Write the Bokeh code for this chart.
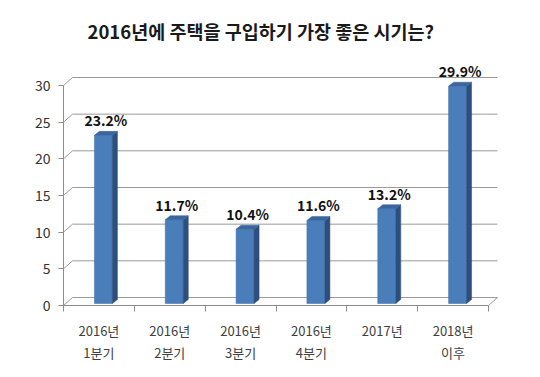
from bokeh.plotting import figure
from bokeh.models import ColumnDataSource, Range1d, FixedTicker
from bokeh.core.properties import value
from bokeh.embed import file_html
from bokeh.resources import INLINE

# ---- data ----
categories = ["2016년\n1분기", "2016년\n2분기", "2016년\n3분기", "2016년\n4분기", "2017년", "2018년\n이후"]
values = [23.2, 11.7, 10.4, 11.6, 13.2, 29.9]
value_labels = ["23.2%", "11.7%", "10.4%", "11.6%", "13.2%", "29.9%"]
y_ticks = [0, 5, 10, 15, 20, 25, 30]
title_text = "2016년에 주택을 구입하기 가장 좋은 시기는?"

FONT = "Noto Sans CJK KR"
n = len(categories)

# geometry (in data units) for the pseudo-3D look
PX_X = 425.0 / 6     # px per x unit
PX_Y = 220.0 / 30    # px per y unit
wall_dx = 9 / PX_X
wall_dy = 8 / PX_Y
bar_w = 18 / PX_X
bar_shift = 4.5 / PX_X
side_dx = 5 / PX_X
side_dy = 4 / PX_Y
bar_base = 2 / PX_Y

p = figure(width=540, height=377, output_backend="svg", toolbar_location=None,
           x_range=Range1d(0, 442 / PX_X), y_range=Range1d(0, 250 / PX_Y),
           min_border_left=63, min_border_right=35, min_border_top=55, min_border_bottom=72)
p.outline_line_color = None
p.xgrid.visible = False
p.ygrid.visible = False
p.background_fill_color = "white"
p.border_fill_color = "white"

# title
p.title.text = title_text
p.title.text_font = FONT
p.title.text_font_size = "18.5px"
p.title.text_font_style = "bold"
p.title.text_color = "#1a1a1a"
p.title.align = "left"
p.title.offset = 24
p.title.standoff = 23

# gridlines (back wall, perspective offset)
gx = [[0, wall_dx, n + wall_dx] for v in y_ticks]
gy = [[v, v + wall_dy, v + wall_dy] for v in y_ticks]
p.multi_line(gx, gy, line_color="#9a9a9a", line_width=1)
# floor right edge
p.line([n, n + wall_dx], [0, wall_dy], line_color="#9a9a9a", line_width=1)

# bars
xc = [i + 0.5 + bar_shift for i in range(n)]
left = [x - bar_w / 2 for x in xc]
right = [x + bar_w / 2 for x in xc]
src = ColumnDataSource(dict(left=left, right=right, bottom=[bar_base] * n, top=values))
p.quad(left="left", right="right", bottom="bottom", top="top", source=src,
       fill_color="#4a7ebb", line_color="#3f6fa8", line_width=0.5)

side_xs = [[r, r + side_dx, r + side_dx, r] for r in right]
side_ys = [[bar_base, bar_base + side_dy, v + side_dy, v] for v in values]
p.patches(side_xs, side_ys, fill_color="#2c4f7e", line_color="#2c4f7e", line_width=0.5)

top_xs = [[l, r, r + side_dx, l + side_dx] for l, r in zip(left, right)]
top_ys = [[v, v, v + side_dy, v + side_dy] for v in values]
p.patches(top_xs, top_ys, fill_color="#3a659f", line_color="#3a659f", line_width=0.5)

# value labels
lab_src = ColumnDataSource(dict(x=[x + side_dx / 2 for x in xc], y=values, t=value_labels))
p.text(x="x", y="y", text="t", source=lab_src, text_align="center", text_baseline="middle",
       y_offset=-15, text_font=value(FONT), text_font_size="14px", text_font_style="bold",
       text_color="#111111")

# axes
p.yaxis.ticker = FixedTicker(ticks=y_ticks)
p.yaxis.bounds = (0, 30)
p.yaxis.axis_line_color = "#8c8c8c"
p.yaxis.major_tick_line_color = "#8c8c8c"
p.yaxis.major_tick_out = 5
p.yaxis.major_tick_in = 0
p.yaxis.minor_tick_line_color = None
p.yaxis.major_label_text_font = FONT
p.yaxis.major_label_text_font_size = "14px"
p.yaxis.major_label_text_color = "#333333"
p.yaxis.major_label_standoff = 8

mids = [i + 0.5 for i in range(n)]
p.xaxis.ticker = FixedTicker(ticks=mids, minor_ticks=list(range(n + 1)))
p.xaxis.major_label_overrides = {m: c for m, c in zip(mids, categories)}
p.xaxis.bounds = (0, n)
p.xaxis.axis_line_color = "#8c8c8c"
p.xaxis.major_tick_line_color = None
p.xaxis.minor_tick_line_color = "#8c8c8c"
p.xaxis.minor_tick_out = 6
p.xaxis.minor_tick_in = 0
p.xaxis.major_label_text_font = FONT
p.xaxis.major_label_text_font_size = "13px"
p.xaxis.major_label_text_color = "#404040"
p.xaxis.major_label_text_line_height = 1.17
p.xaxis.major_label_standoff = 9

open("out.html", "w").write(file_html(p, INLINE))
